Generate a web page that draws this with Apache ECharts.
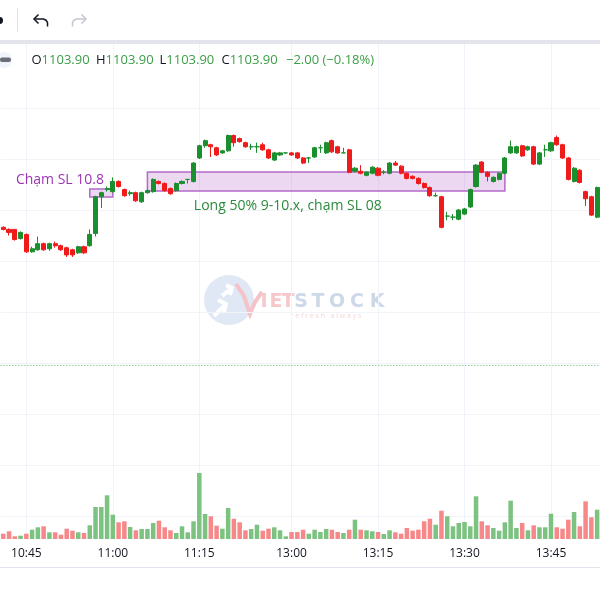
<!DOCTYPE html>
<html><head><meta charset="utf-8">
<script src="https://cdn.jsdelivr.net/npm/echarts@6/dist/echarts.min.js"></script>
<style>html,body{margin:0;padding:0;background:#fff}#c{width:600px;height:600px}</style>
</head><body><div id="c"></div>
<script>
// ---- data ----
const sessions = [['10:41', '11:30'], ['13:00', '13:53']];
const xTickLabels = ['10:45', '11:00', '11:15', '13:00', '13:15', '13:30', '13:45'];

const openP = [1103.3,1103.1,1103.1,1102.2,1102.6,1100.9,1101.1,1101.7,1101.2,1101.7,
1101.5,1101.3,1101.1,1100.8,1101.4,1101.5,1102.7,1106.3,1107.0,1106.8,
1107.8,1107.0,1106.6,1106.7,1105.8,1106.7,1106.8,1107.8,1107.6,1107.1,
1106.9,1107.6,1108.0,1107.8,1110.1,1111.3,1111.4,1111.1,1110.6,1110.8,
1112.3,1112.0,1111.6,1111.2,1111.2,1111.4,1110.9,1109.9,1110.4,1110.6,
1110.6,1110.6,1110.1,1110.1,1110.2,1111.1,1110.6,1111.8,1111.2,1110.6,
1110.9,1108.8,1108.8,1108.4,1108.6,1109.1,1108.7,1108.6,1109.6,1109.3,
1108.6,1108.3,1108.1,1107.6,1107.2,1106.4,1106.3,1104.4,1104.3,1104.1,
1104.6,1105.3,1107.3,1109.7,1108.7,1107.8,1108.0,1108.6,1110.6,1110.6,
1111.3,1110.9,1111.2,1109.5,1110.9,1110.8,1112.1,1111.4,1110.1,1107.8,
1108.9,1106.8,1106.3,1104.3];
const closeP = [1103.1,1102.8,1102.1,1102.8,1100.9,1101.2,1101.7,1101.1,1101.7,1101.5,
1101.1,1100.6,1100.6,1101.4,1100.8,1102.6,1106.3,1106.7,1107.1,1107.8,
1107.3,1106.4,1106.7,1105.9,1106.7,1106.9,1108.0,1107.6,1106.9,1106.6,
1107.6,1107.8,1108.0,1109.6,1111.3,1111.8,1111.2,1110.4,1110.8,1112.3,
1111.6,1111.7,1111.2,1111.2,1111.2,1110.9,1110.1,1110.6,1110.6,1110.6,
1110.4,1110.1,1109.6,1110.1,1111.1,1111.1,1111.6,1110.7,1110.6,1110.6,
1108.7,1109.1,1108.6,1108.7,1109.2,1108.4,1108.7,1109.6,1109.4,1108.6,
1108.1,1108.1,1107.6,1107.2,1106.4,1106.4,1103.3,1104.4,1104.3,1105.0,
1105.1,1107.0,1109.4,1108.7,1108.3,1108.2,1108.6,1110.1,1111.2,1111.2,
1110.3,1111.2,1109.5,1110.6,1110.9,1111.6,1111.4,1110.1,1108.0,1109.1,
1107.7,1106.1,1104.5,1107.2];
const lowP = [1103.0,1102.5,1102.0,1102.1,1100.8,1100.8,1101.0,1101.0,1101.0,1101.3,
1101.0,1100.4,1100.4,1100.7,1100.7,1101.4,1102.4,1105.2,1106.8,1106.7,
1107.2,1106.3,1106.4,1105.8,1105.7,1106.6,1106.7,1107.5,1106.8,1106.5,
1106.8,1107.5,1107.6,1107.7,1110.0,1111.1,1110.2,1110.3,1110.5,1110.7,
1111.2,1111.6,1111.1,1110.9,1110.6,1110.8,1110.0,1109.8,1110.3,1110.5,
1110.3,1110.0,1109.5,1109.6,1110.1,1110.6,1110.5,1110.6,1110.5,1110.6,
1108.6,1108.7,1108.5,1108.3,1108.5,1108.3,1108.5,1108.5,1109.3,1108.5,
1108.0,1108.0,1107.5,1107.1,1106.3,1106.3,1103.2,1104.0,1104.0,1104.0,
1104.5,1105.2,1107.2,1108.6,1107.8,1107.7,1107.9,1108.5,1110.5,1110.5,
1110.2,1110.8,1109.4,1109.4,1110.2,1110.7,1111.3,1110.0,1107.9,1107.7,
1107.6,1105.4,1104.4,1104.2];
const highP = [1103.4,1103.2,1103.1,1102.9,1102.7,1101.4,1102.4,1101.8,1101.8,1101.9,
1101.6,1101.4,1101.2,1101.5,1101.5,1103.1,1106.4,1106.8,1107.3,1108.2,
1107.9,1107.1,1106.9,1106.8,1106.8,1107.0,1108.1,1107.9,1107.7,1107.2,
1107.7,1107.9,1108.0,1109.7,1111.4,1111.9,1111.5,1111.2,1110.9,1112.4,
1112.4,1112.1,1111.7,1111.5,1111.6,1111.6,1111.0,1110.7,1110.7,1110.6,
1110.7,1110.7,1110.2,1110.2,1111.2,1111.4,1111.7,1111.9,1111.3,1111.1,
1111.0,1109.2,1109.4,1108.8,1109.3,1109.2,1108.9,1109.7,1109.8,1109.4,
1108.7,1108.4,1108.2,1107.7,1107.3,1106.7,1106.4,1104.8,1104.6,1105.1,
1105.2,1107.1,1109.5,1109.8,1108.8,1108.3,1108.7,1110.2,1111.8,1111.3,
1111.4,1111.3,1111.3,1110.7,1111.4,1111.7,1112.3,1111.5,1110.2,1109.2,
1109.0,1106.9,1106.4,1107.3];
const volume = [530,770,270,330,530,930,1170,1270,670,670,
430,1030,830,670,600,1370,3200,3200,4370,2430,
1670,1770,1200,870,1000,1000,1600,1830,1170,870,
600,1270,670,1770,6600,2500,2270,1330,1030,3100,
2030,1670,870,1000,1430,830,1030,1170,870,270,
700,700,930,530,930,700,1000,930,700,600,
930,1930,930,870,770,700,500,870,670,530,
1100,830,930,1770,2030,1430,2830,2270,1270,1600,
1700,1270,4270,1770,1370,1100,830,1670,3830,1100,
1600,870,1370,1170,1170,2530,1170,1030,1930,2700,
1270,3770,2170,2930];

// drawing annotations (bar index / price)
const boxSL = [15, 1107.06, 19, 1106.28];
const boxLong = [25, 1108.73, 87, 1106.87];
const textSL = { idx: 10, price: 1107.94, text: 'Chạm SL 10.8' };
const textLong = { idx: 49, price: 1105.4, text: 'Long 50% 9-10.x, chạm SL 08' };
const refLine = 1089.8;
const legendVals = { o: '1103.90', h: '1103.90', l: '1103.90', c: '1103.90', chg: '−2.00 (−0.18%)' };

// ---- build ----
function toMin(s) { const p = s.split(':').map(Number); return p[0] * 60 + p[1]; }
function fmt(m) { return String(Math.floor(m / 60)).padStart(2, '0') + ':' + String(m % 60).padStart(2, '0'); }
const times = [];
sessions.forEach(([a, b]) => { for (let m = toMin(a); m <= toMin(b); m++) times.push(fmt(m)); });

const UP = '#1a8f2e', DOWN = '#f11a1a', VUP = '#7cc281', VDOWN = '#f6888a';
const FONT = '"Open Sans", sans-serif';
const candles = times.map((t, i) => [openP[i], closeP[i], lowP[i], highP[i]]);
const vols = times.map((t, i) => ({ value: volume[i], itemStyle: { color: closeP[i] >= openP[i] ? VUP : VDOWN } }));

const chart = echarts.init(document.getElementById('c'), null, { renderer: 'canvas' });

function legendItem(x, k, v) {
  return {
    type: 'text', x: x, y: 60, z: 10,
    style: {
      text: (k ? '{k|' + k + '}' : '') + '{v|' + v + '}',
      verticalAlign: 'middle',
      rich: {
        k: { fill: '#131722', fontSize: 13, fontFamily: FONT },
        v: { fill: '#3a9f46', fontSize: 13, fontFamily: FONT }
      }
    }
  };
}
function pl(points, stroke, w) {
  return { type: 'polyline', shape: { points: points }, style: { stroke: stroke, lineWidth: w, fill: null } };
}
const wmLetters = [['I', 264, '#f5c8cc'], ['E', 276, '#f5c8cc'], ['T', 288, '#f5c8cc'],
  ['S', 301, '#cdd8e8'], ['T', 318, '#cdd8e8'], ['O', 337, '#cdd8e8'], ['C', 357, '#cdd8e8'], ['K', 377, '#cdd8e8']];

const option = {
  animation: false,
  backgroundColor: '#ffffff',
  grid: [
    { left: 0.4, right: -3, top: 82.5, bottom: 33 },
    { left: 0.4, right: -3, top: 44, bottom: 61 }
  ],
  xAxis: [
    { type: 'category', gridIndex: 0, data: times, boundaryGap: true,
      axisLine: { show: true, lineStyle: { color: '#e0e3eb', width: 1 } },
      axisTick: { show: false }, axisLabel: { show: false }, splitLine: { show: false } },
    { type: 'category', gridIndex: 1, data: times, boundaryGap: true,
      axisLine: { show: false }, axisTick: { show: false }, splitLine: { show: false },
      axisLabel: { show: true, interval: (i, v) => xTickLabels.includes(v), color: '#131722',
        fontSize: 12, fontFamily: FONT, margin: 9 } }
  ],
  yAxis: [
    { type: 'value', gridIndex: 0, min: 1070, max: 1117.5, interval: 5,
      axisLine: { show: false }, axisTick: { show: false }, axisLabel: { show: false },
      splitLine: { show: true, showMinLine: false, showMaxLine: false, lineStyle: { color: '#f2f4f9', width: 1 } } },
    { type: 'value', gridIndex: 1, min: 0, max: 49500, show: false, splitLine: { show: false } }
  ],
  graphic: [
    // toolbar
    { type: 'circle', shape: { cx: -0.5, cy: 20.5, r: 3.5 }, style: { fill: '#131722' } },
    { type: 'line', shape: { x1: 17.5, y1: 8, x2: 17.5, y2: 32 }, style: { stroke: '#e0e3eb', lineWidth: 1 } },
    pl([[38.5, 14.5], [34, 19], [38.5, 23.5]], '#131722', 1.5),
    pl([[34, 19], [43.5, 19], [46, 20.2], [47.5, 22.5], [47.5, 26.5]], '#131722', 1.5),
    pl([[81.5, 14.5], [86, 19], [81.5, 23.5]], '#c5c8d0', 1.5),
    pl([[86, 19], [76.5, 19], [74, 20.2], [72.5, 22.5], [72.5, 26.5]], '#c5c8d0', 1.5),
    { type: 'rect', shape: { x: 0, y: 40, width: 600, height: 4 }, style: { fill: '#e3e4ec' } },
    // legend
    { type: 'circle', shape: { cx: 4, cy: 60, r: 8 }, style: { fill: '#f0f3fa' }, z: 9 },
    { type: 'rect', shape: { x: 0, y: 57.5, width: 11, height: 4.5, r: 2 }, style: { fill: '#6b6e78' }, z: 10 },
    legendItem(31.5, 'O', legendVals.o),
    legendItem(96, 'H', legendVals.h),
    legendItem(159.5, 'L', legendVals.l),
    legendItem(221.5, 'C', legendVals.c),
    legendItem(286, '', legendVals.chg),
    // watermark
    { type: 'group', z: 0, silent: true, children: [
      { type: 'circle', shape: { cx: 229, cy: 300, r: 25 }, style: { fill: '#dbe5f3', opacity: 0.9 } },
      pl([[214, 316], [226, 304]], '#ffffff', 4),
      pl([[218, 300], [226, 304], [224, 312]], '#ffffff', 4),
      pl([[222, 296], [232, 288]], '#ffffff', 4),
      pl([[226, 285], [232, 288], [230, 295]], '#ffffff', 4),
      pl([[236, 284], [244, 296], [250, 314], [255, 302], [262, 292]], '#f5c2c7', 4),
      ...wmLetters.map(l => ({ type: 'text', x: l[1], y: 302,
        style: { text: l[0], fill: l[2], fontSize: 19, fontWeight: 'bold', fontFamily: '"DejaVu Sans", sans-serif',
          align: 'center', verticalAlign: 'middle' } })),
      { type: 'text', x: 326, y: 316, style: { text: 'r e f r e s h   a l w a y s', fill: '#f3d6d9', fontSize: 7,
        fontFamily: FONT, align: 'center', verticalAlign: 'middle' } }
    ] }
  ],
  series: [
    {
      type: 'candlestick', xAxisIndex: 0, yAxisIndex: 0, data: candles, barWidth: 4.6, z: 3,
      itemStyle: { color: UP, color0: DOWN, borderColor: UP, borderColor0: DOWN, borderColorDoji: UP, borderWidth: 1 },
      markArea: {
        silent: true, label: { show: false },
        itemStyle: { color: 'rgba(156,39,176,0.18)', borderColor: '#b26ac9', borderWidth: 1.5 },
        data: [
          [{ coord: [times[boxSL[0]], boxSL[1]] }, { coord: [times[boxSL[2]], boxSL[3]] }],
          [{ coord: [times[boxLong[0]], boxLong[1]] }, { coord: [times[boxLong[2]], boxLong[3]] }]
        ]
      },
      markLine: {
        silent: true, symbol: ['none', 'none'], label: { show: false },
        lineStyle: { type: [1, 2], color: '#5fb865', width: 1 },
        data: [{ yAxis: refLine }]
      },
      markPoint: {
        silent: true,
        data: [
          { coord: [times[textSL.idx], textSL.price], symbol: 'circle', symbolSize: 1, itemStyle: { color: 'rgba(0,0,0,0)' },
            label: { show: true, position: 'inside', offset: [-1, 0], formatter: textSL.text, color: '#9c35b4', fontSize: 14, fontFamily: FONT } },
          { coord: [times[textLong.idx], textLong.price], symbol: 'circle', symbolSize: 1, itemStyle: { color: 'rgba(0,0,0,0)' },
            label: { show: true, position: 'inside', offset: [2, 0], formatter: textLong.text, color: '#2b8a3c', fontSize: 14, fontFamily: FONT } }
        ]
      }
    },
    {
      type: 'bar', xAxisIndex: 1, yAxisIndex: 1, data: vols, barWidth: '78%', z: 2,
      markLine: {
        silent: true, z: 0, symbol: ['none', 'none'], label: { show: false },
        lineStyle: { type: 'solid', color: '#f0f3fa', width: 1 },
        data: xTickLabels.map(t => ({ xAxis: t }))
      }
    }
  ]
};
chart.setOption(option);
</script>
</body></html>
